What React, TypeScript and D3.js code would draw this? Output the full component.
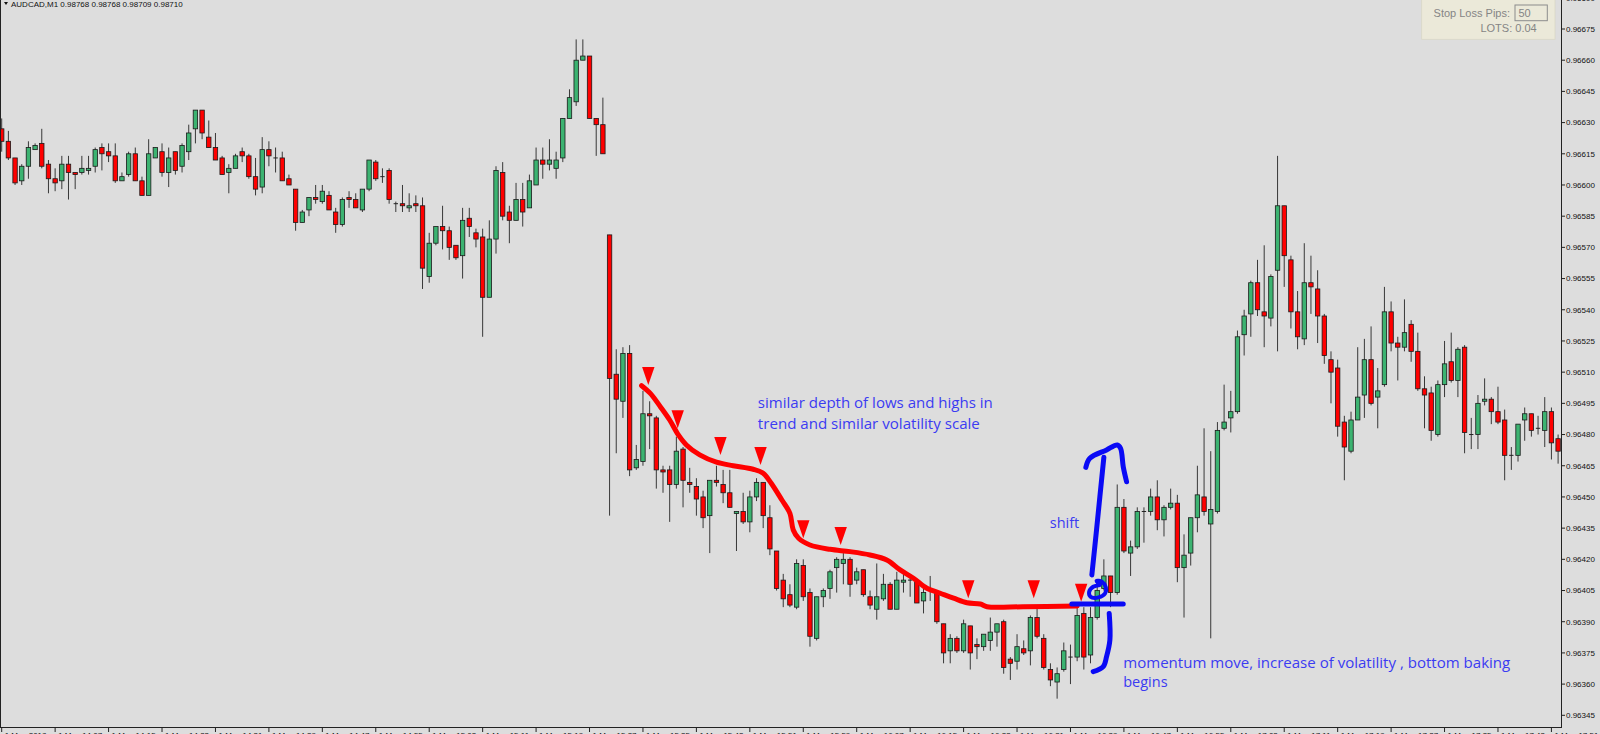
import React, { useEffect } from "react";
import * as d3 from "d3";

const WIDTH = 1600;
const HEIGHT = 734;
const POINT = 0.00001; // values below are in points (price / 0.00001)

const timeLabels = [
  "1 May 2018", "1 May 14:07", "1 May 14:15", "1 May 14:23", "1 May 14:31", "1 May 14:39",
  "1 May 14:47", "1 May 14:55", "1 May 15:03", "1 May 15:11", "1 May 15:19", "1 May 15:27",
  "1 May 15:35", "1 May 15:43", "1 May 15:51", "1 May 15:59", "1 May 16:07", "1 May 16:15",
  "1 May 16:23", "1 May 16:31", "1 May 16:39", "1 May 16:47", "1 May 16:55", "1 May 17:03",
  "1 May 17:11", "1 May 17:19", "1 May 17:27", "1 May 17:35", "1 May 17:43", "1 May 17:51",
];
const LABEL_EVERY = 8;

const priceTicks = [
  0.96345, 0.9636, 0.96375, 0.9639, 0.96405, 0.9642, 0.96435, 0.9645, 0.96465, 0.9648,
  0.96495, 0.9651, 0.96525, 0.9654, 0.96555, 0.9657, 0.96585, 0.966, 0.96615, 0.9663,
  0.96645, 0.9666, 0.96675, 0.9669,
];

const openPts = [
  96627, 96621, 96613, 96602, 96609, 96617, 96620, 96610, 96603, 96602, 96610, 96606, 96606, 96607, 96609, 96618, 96616, 96614, 96602, 96605,
  96615, 96602, 96595, 96613, 96616, 96606, 96616, 96609, 96616, 96627, 96636, 96623, 96618, 96613, 96606, 96608, 96616, 96614, 96604, 96599,
  96617, 96613, 96613, 96603, 96598, 96582, 96588, 96594, 96592, 96595, 96587, 96581, 96594, 96593, 96588, 96598, 96611, 96604, 96607, 96591,
  96591, 96589, 96591, 96590, 96556, 96572, 96580, 96578, 96571, 96566, 96584, 96577, 96575, 96546, 96574, 96606, 96587, 96583, 96593, 96589,
  96600, 96612, 96610, 96608, 96613, 96632, 96640, 96660, 96662, 96632, 96629, 96576, 96509, 96496, 96519, 96464, 96467, 96490, 96488, 96463,
  96463, 96456, 96473, 96457, 96455, 96450, 96441, 96458, 96456, 96452, 96442, 96443, 96438, 96450, 96457, 96440, 96424, 96410, 96403, 96397,
  96417, 96404, 96382, 96402, 96406, 96416, 96418, 96420, 96410, 96415, 96402, 96396, 96401, 96408, 96396, 96409, 96410, 96409, 96400, 96405,
  96404, 96389, 96376, 96382, 96376, 96388, 96379, 96378, 96381, 96385, 96390, 96372, 96371, 96377, 96376, 96392, 96382, 96367, 96361, 96367,
  96373, 96373, 96394, 96374, 96392, 96406, 96412, 96404, 96445, 96423, 96426, 96443, 96443, 96450, 96439, 96445, 96447, 96416, 96423, 96440,
  96450, 96437, 96443, 96483, 96488, 96491, 96528, 96538, 96553, 96539, 96536, 96559, 96590, 96564, 96539, 96526, 96553, 96550, 96537, 96516,
  96512, 96486, 96472, 96487, 96499, 96516, 96498, 96504, 96539, 96524, 96522, 96533, 96520, 96502, 96500, 96480, 96504, 96515, 96506, 96522,
  96480, 96480, 96496, 96497, 96491, 96487, 96470, 96470, 96487, 96490, 96483, 96482, 96491, 96478,
];
const highPts = [
  96632, 96626, 96613, 96610, 96621, 96620, 96627, 96612, 96608, 96614, 96614, 96606, 96614, 96614, 96618, 96620, 96620, 96620, 96606, 96616,
  96618, 96604, 96622, 96618, 96620, 96618, 96616, 96620, 96629, 96636, 96636, 96631, 96625, 96614, 96610, 96615, 96618, 96615, 96613, 96623,
  96621, 96618, 96616, 96605, 96598, 96588, 96594, 96600, 96600, 96597, 96589, 96594, 96597, 96596, 96598, 96612, 96612, 96608, 96608, 96592,
  96600, 96596, 96595, 96594, 96577, 96580, 96590, 96580, 96571, 96589, 96589, 96579, 96579, 96583, 96609, 96611, 96590, 96601, 96601, 96605,
  96618, 96618, 96622, 96616, 96632, 96646, 96670, 96670, 96662, 96632, 96642, 96576, 96521, 96522, 96523, 96475, 96501, 96496, 96489, 96465,
  96465, 96479, 96474, 96464, 96459, 96453, 96458, 96465, 96463, 96463, 96443, 96452, 96453, 96459, 96457, 96446, 96424, 96413, 96408, 96420,
  96420, 96406, 96402, 96406, 96415, 96421, 96423, 96421, 96416, 96415, 96405, 96418, 96413, 96409, 96414, 96414, 96411, 96410, 96407, 96412,
  96404, 96389, 96384, 96383, 96391, 96388, 96382, 96384, 96392, 96389, 96391, 96373, 96384, 96381, 96393, 96397, 96384, 96370, 96368, 96380,
  96379, 96397, 96397, 96397, 96409, 96420, 96412, 96456, 96449, 96429, 96445, 96445, 96454, 96458, 96446, 96454, 96451, 96432, 96440, 96465,
  96483, 96472, 96486, 96504, 96501, 96530, 96540, 96554, 96564, 96571, 96557, 96614, 96590, 96566, 96549, 96572, 96566, 96559, 96538, 96520,
  96516, 96489, 96491, 96522, 96526, 96532, 96512, 96551, 96544, 96527, 96545, 96535, 96529, 96508, 96503, 96506, 96525, 96529, 96522, 96523,
  96488, 96499, 96507, 96498, 96503, 96492, 96474, 96485, 96493, 96490, 96489, 96498, 96493, 96480,
];
const lowPts = [
  96616, 96612, 96600, 96600, 96603, 96617, 96608, 96596, 96597, 96598, 96593, 96598, 96605, 96605, 96606, 96607, 96611, 96601, 96602, 96604,
  96602, 96595, 96595, 96613, 96604, 96599, 96605, 96606, 96612, 96620, 96622, 96618, 96612, 96605, 96596, 96608, 96611, 96603, 96595, 96596,
  96609, 96606, 96602, 96600, 96578, 96582, 96585, 96591, 96591, 96588, 96577, 96580, 96589, 96589, 96587, 96597, 96602, 96601, 96591, 96587,
  96587, 96587, 96587, 96550, 96553, 96571, 96569, 96564, 96564, 96555, 96575, 96570, 96527, 96546, 96567, 96583, 96572, 96583, 96580, 96589,
  96600, 96603, 96607, 96603, 96611, 96632, 96638, 96660, 96632, 96614, 96615, 96441, 96471, 96488, 96460, 96463, 96465, 96473, 96454, 96452,
  96438, 96454, 96445, 96452, 96441, 96435, 96423, 96455, 96447, 96445, 96424, 96437, 96433, 96448, 96435, 96422, 96405, 96397, 96397, 96396,
  96400, 96378, 96381, 96397, 96401, 96404, 96408, 96402, 96408, 96402, 96396, 96391, 96400, 96396, 96396, 96404, 96402, 96399, 96394, 96400,
  96389, 96370, 96370, 96375, 96375, 96367, 96372, 96376, 96376, 96378, 96365, 96362, 96367, 96374, 96369, 96382, 96367, 96359, 96353, 96366,
  96360, 96371, 96367, 96370, 96391, 96405, 96397, 96403, 96423, 96412, 96425, 96428, 96441, 96434, 96431, 96444, 96409, 96392, 96417, 96433,
  96441, 96382, 96442, 96482, 96481, 96490, 96518, 96527, 96537, 96522, 96532, 96520, 96551, 96531, 96521, 96523, 96538, 96524, 96514, 96495,
  96479, 96458, 96471, 96487, 96488, 96494, 96483, 96503, 96520, 96506, 96520, 96515, 96501, 96483, 96477, 96479, 96498, 96505, 96498, 96471,
  96473, 96473, 96494, 96485, 96485, 96458, 96463, 96467, 96477, 96479, 96480, 96474, 96468, 96466,
];
const closePts = [
  96621, 96613, 96601, 96609, 96618, 96619, 96609, 96603, 96601, 96610, 96606, 96605, 96608, 96608, 96617, 96615, 96614, 96602, 96604, 96615,
  96602, 96595, 96615, 96618, 96606, 96613, 96607, 96619, 96625, 96636, 96625, 96618, 96612, 96605, 96608, 96614, 96614, 96604, 96598, 96617,
  96614, 96613, 96602, 96600, 96582, 96587, 96594, 96593, 96597, 96588, 96581, 96593, 96593, 96589, 96598, 96612, 96603, 96604, 96593, 96591,
  96590, 96590, 96590, 96560, 96572, 96580, 96578, 96570, 96565, 96583, 96580, 96574, 96546, 96574, 96607, 96585, 96583, 96593, 96587, 96602,
  96612, 96610, 96612, 96612, 96632, 96642, 96660, 96662, 96632, 96629, 96615, 96507, 96497, 96519, 96463, 96468, 96490, 96489, 96463, 96462,
  96456, 96472, 96458, 96456, 96449, 96440, 96458, 96457, 96452, 96445, 96443, 96438, 96450, 96457, 96441, 96425, 96406, 96401, 96398, 96418,
  96402, 96383, 96402, 96405, 96414, 96420, 96420, 96408, 96414, 96403, 96398, 96402, 96408, 96396, 96410, 96410, 96410, 96399, 96404, 96405,
  96390, 96375, 96382, 96376, 96389, 96375, 96378, 96384, 96385, 96389, 96368, 96370, 96378, 96375, 96392, 96383, 96368, 96362, 96365, 96376,
  96373, 96393, 96373, 96392, 96405, 96412, 96404, 96445, 96424, 96426, 96443, 96443, 96450, 96439, 96445, 96447, 96416, 96422, 96440, 96451,
  96443, 96444, 96482, 96486, 96491, 96527, 96537, 96553, 96540, 96537, 96556, 96590, 96566, 96539, 96527, 96553, 96551, 96537, 96518, 96510,
  96484, 96474, 96487, 96498, 96516, 96495, 96501, 96539, 96524, 96522, 96529, 96520, 96502, 96499, 96482, 96504, 96514, 96506, 96521, 96481,
  96480, 96495, 96497, 96491, 96486, 96470, 96470, 96485, 96490, 96482, 96483, 96491, 96476, 96472,
];

// Hand-drawn annotations, anchored in chart coordinates (bar index, price in points)
const redCurveIdx = [95.8, 97.1, 98.6, 100.0, 101.3, 102.5, 104.5, 107.0, 109.5, 112.5, 114.0, 115.2, 116.8, 118.0, 118.5, 119.3, 121.0, 124.0, 127.0, 130.0, 132.5, 134.5, 136.5, 138.5, 140.5, 142.5, 144.5, 146.5, 147.5, 152.9, 161.0];
const redCurvePts = [96503.5, 96499.8, 96493.4, 96487, 96479.8, 96475, 96470.2, 96466.7, 96465, 96463.3, 96461.4, 96456.6, 96448.5, 96442.1, 96434.1, 96430.1, 96426.9, 96424.8, 96423.7, 96422.1, 96419.7, 96414.9, 96410.9, 96406.1, 96403.7, 96401.3, 96399.1, 96398.5, 96397.2, 96397.2, 96397.6];

const markerIdx = [96.8, 101.2, 107.6, 113.6, 120.0, 125.6, 144.7, 154.5, 161.6];
const markerPts = [96503.8, 96483, 96470.2, 96465.4, 96430.1, 96426.9, 96401.3, 96401.3, 96399.6];

const shiftStemIdx = [163.2, 163.9, 164.4, 165.0];
const shiftStemPts = [96412.5, 96434.1, 96450.1, 96469.1];
const shiftHookIdx = [162.3, 162.9, 165.4, 167.0, 167.5, 167.9, 168.4];
const shiftHookPts = [96464.2, 96468.6, 96472.6, 96475, 96473.4, 96464.5, 96457.3];
const bracketIdx = [165.8, 165.9, 165.4, 164.9, 163.4];
const bracketPts = [96394, 96381.2, 96373.2, 96368.4, 96366];
const loopIdx = [164.4, 163.4, 162.8, 163.0, 164.2, 165.2, 165.3, 164.7, 163.9, 164.4];
const loopPts = [96407.7, 96406.8, 96404.4, 96402, 96401.7, 96403.7, 96406.5, 96409.2, 96409.6, 96407.7];
const levelIdx = [160.2, 167.9];
const levelPts = [96398.5, 96398.5];

const noteTexts = [
  "similar depth of lows and highs in",
  "trend and similar volatility scale",
  "shift",
  "momentum move, increase of volatility , bottom baking",
  "begins",
];
const noteIdx = [113.2, 113.2, 156.9, 167.9, 167.9];
const notePts = [96492.6, 96482.7, 96434.9, 96367.6, 96358.8];
const noteLens = [235, 222, 0, 387, 0];

const PLOT_RIGHT = 1561;
const PLOT_BOTTOM = 727;

export default function App() {
  useEffect(() => {
    document.body.style.margin = "0";
  }, []);

  const n = openPts.length;
  const x = d3.scaleLinear().domain([0, 233]).range([1.7, 1558.1]);
  const y = d3.scaleLinear().domain([0.96345, 0.96675]).range([715.3, 29]);
  const yp = (p: number) => y(p * POINT);

  const line = d3
    .line<[number, number]>()
    .x((d) => x(d[0]))
    .y((d) => yp(d[1]))
    .curve(d3.curveCatmullRom.alpha(0.5));
  const zip = (a: number[], b: number[]) => a.map((v, i) => [v, b[i]] as [number, number]);

  const green = "#3cb371";
  const red = "#ff0000";
  const blue = "#0a0af5";
  const textBlue = "#3b3bf2";
  const bw = 4.4;

  const candles = d3.range(n).map((i) => {
    const o = openPts[i], c = closePts[i], h = highPts[i], l = lowPts[i];
    const cx = x(i);
    const top = yp(Math.max(o, c));
    const bot = yp(Math.min(o, c));
    const up = c >= o;
    return (
      <g key={i}>
        <line x1={cx} x2={cx} y1={yp(h)} y2={yp(l)} stroke="#383838" strokeWidth={1} />
        {o === c ? (
          <line x1={cx - bw / 2} x2={cx + bw / 2} y1={top} y2={top} stroke="#222" strokeWidth={1} />
        ) : (
          <rect
            x={cx - bw / 2}
            y={top}
            width={bw}
            height={Math.max(1, bot - top)}
            fill={up ? green : red}
            stroke="#1a1a1a"
            strokeWidth={0.8}
          />
        )}
      </g>
    );
  });

  const xTickIdx = timeLabels.map((_, k) => k * LABEL_EVERY);

  return (
    <svg
      width={WIDTH}
      height={HEIGHT}
      style={{ position: "absolute", left: 0, top: 0, display: "block" }}
      fontFamily="'Liberation Sans', Arial, sans-serif"
    >
      <defs>
        <clipPath id="plotClip">
          <rect x={0} y={0} width={PLOT_RIGHT} height={PLOT_BOTTOM} />
        </clipPath>
      </defs>
      <rect x={0} y={0} width={WIDTH} height={HEIGHT} fill="#dddddd" />

      {/* header */}
      <path d="M4,2 L8,2 L6,5 Z" fill="#111" />
      <text x={11} y={6.8} fontSize={8} fill="#111">
        AUDCAD,M1  0.98768 0.98768 0.98709 0.98710
      </text>

      <g clipPath="url(#plotClip)">{candles}</g>

      {/* frame */}
      <line x1={0.5} x2={0.5} y1={0} y2={PLOT_BOTTOM} stroke="#222" strokeWidth={1} />
      <line x1={PLOT_RIGHT + 0.5} x2={PLOT_RIGHT + 0.5} y1={0} y2={PLOT_BOTTOM} stroke="#222" strokeWidth={1} />
      <line x1={0} x2={PLOT_RIGHT + 1} y1={PLOT_BOTTOM + 0.5} y2={PLOT_BOTTOM + 0.5} stroke="#222" strokeWidth={1} />

      {/* price axis */}
      {priceTicks.map((p) => (
        <g key={p}>
          <line x1={PLOT_RIGHT + 1} x2={PLOT_RIGHT + 4} y1={y(p)} y2={y(p)} stroke="#222" strokeWidth={1} />
          <text x={PLOT_RIGHT + 5} y={y(p)} dy="0.35em" fontSize={8} fill="#111">
            {p.toFixed(5)}
          </text>
        </g>
      ))}

      {/* time axis */}
      {xTickIdx.map((idx, k) => (
        <g key={k}>
          <line x1={x(idx)} x2={x(idx)} y1={PLOT_BOTTOM} y2={PLOT_BOTTOM + 5} stroke="#222" strokeWidth={1} />
          <text x={x(idx) + 3} y={737.5} fontSize={8} fill="#111">
            {timeLabels[k]}
          </text>
        </g>
      ))}

      {/* info panel */}
      <rect x={1421.7} y={-1} width={133.3} height={40.3} fill="#ebe9d9" stroke="#d9d7c6" strokeWidth={0.8} />
      <text x={1510} y={17.3} fontSize={11} fill="#858585" textAnchor="end">
        Stop Loss Pips:
      </text>
      <rect x={1515} y={5} width={32.3} height={15.7} fill="#ebe9d9" stroke="#8c8c8c" strokeWidth={1} />
      <text x={1518.5} y={17.3} fontSize={11} fill="#858585">
        50
      </text>
      <text x={1536.7} y={31.7} fontSize={11} fill="#858585" textAnchor="end">
        LOTS: 0.04
      </text>

      {/* red trend curve */}
      <path
        d={line(zip(redCurveIdx, redCurvePts)) || ""}
        fill="none"
        stroke={red}
        strokeWidth={5}
        strokeLinecap="round"
        strokeLinejoin="round"
      />
      {markerIdx.map((mi, k) => {
        const tx = x(mi);
        const ty = yp(markerPts[k]);
        return <path key={k} d={`M${tx - 6.2},${ty - 18} L${tx + 6.2},${ty - 18} L${tx},${ty} Z`} fill={red} />;
      })}

      {/* blue hand drawing */}
      {[
        zip(shiftStemIdx, shiftStemPts),
        zip(shiftHookIdx, shiftHookPts),
        zip(bracketIdx, bracketPts),
        zip(levelIdx, levelPts),
      ].map((pts, k) => (
        <path
          key={k}
          d={line(pts) || ""}
          fill="none"
          stroke={blue}
          strokeWidth={5}
          strokeLinecap="round"
          strokeLinejoin="round"
        />
      ))}
      <path
        d={line(zip(loopIdx, loopPts)) || ""}
        fill="none"
        stroke={blue}
        strokeWidth={4}
        strokeLinecap="round"
        strokeLinejoin="round"
      />

      {/* notes */}
      {noteTexts.map((t, k) => (
        <text
          key={k}
          x={x(noteIdx[k])}
          y={yp(notePts[k])}
          fontSize={14.5}
          fontFamily="'Open Sans', 'Noto Sans', sans-serif"
          fill={textBlue}
          {...(noteLens[k] > 0 ? { textLength: noteLens[k], lengthAdjust: "spacingAndGlyphs" } : {})}
        >
          {t}
        </text>
      ))}
    </svg>
  );
}
